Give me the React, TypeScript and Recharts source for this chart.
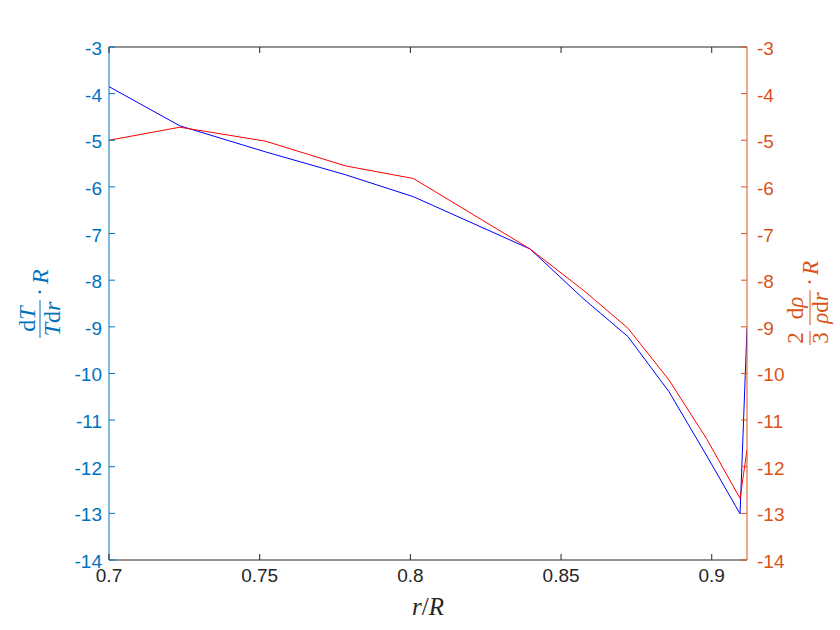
import React from 'react';
import { LineChart, Line, XAxis, YAxis } from 'recharts';

// r/R sample positions
const rValues = [0.7, 0.7235, 0.752, 0.7785, 0.801, 0.8397, 0.8573, 0.8722, 0.8858, 0.8982, 0.9094, 0.9117];
// left axis series: dT/(T dr) * R
const tempGradient = [-3.85, -4.69, -5.25, -5.74, -6.21, -7.33, -8.39, -9.21, -10.39, -11.75, -13.01, -9.03];
// right axis series: (2/3) d rho/(rho dr) * R
const densityGradient = [-5.0, -4.72, -5.02, -5.55, -5.82, -7.33, -8.21, -9.03, -10.14, -11.39, -12.68, -11.64];

const xTicks = [0.7, 0.75, 0.8, 0.85, 0.9];
const yTicks = [-3, -4, -5, -6, -7, -8, -9, -10, -11, -12, -13, -14];
const xDomain = [0.7, 0.9117];
const yDomain = [-14, -3];

const data = rValues.map((r, i) => ({ r, t: tempGradient[i], rho: densityGradient[i] }));

const BLUE_AX = '#0072BD';
const ORANGE_AX = '#D95319';
const DARK = '#262626';
const SANS = '"Liberation Sans", Arial, Helvetica, sans-serif';
const SERIF = '"Liberation Serif", "Times New Roman", serif';
const TICK = 6;
const FS = 19;

const LeftTick = (props: any) => {
  const { x, y, payload } = props;
  return (
    <g>
      <line x1={x} x2={x + TICK} y1={y} y2={y} stroke={BLUE_AX} strokeWidth={1} />
      <text x={x - 7} y={y + 8} textAnchor="end" fill={BLUE_AX} fontSize={FS} fontFamily={SANS}>
        {String(payload.value)}
      </text>
    </g>
  );
};

const RightTick = (props: any) => {
  const { x, y, payload } = props;
  return (
    <g>
      <line x1={x} x2={x - TICK} y1={y} y2={y} stroke={ORANGE_AX} strokeWidth={1} />
      <text x={x + 10} y={y + 8} textAnchor="start" fill={ORANGE_AX} fontSize={FS} fontFamily={SANS}>
        {String(payload.value)}
      </text>
    </g>
  );
};

const BottomTick = (props: any) => {
  const { x, y, payload } = props;
  return (
    <g>
      <line x1={x} x2={x} y1={y} y2={y - TICK} stroke={DARK} strokeWidth={1} />
      <text x={x} y={y + 22} textAnchor="middle" fill={DARK} fontSize={FS} fontFamily={SANS}>
        {String(payload.value)}
      </text>
    </g>
  );
};

const TopTick = (props: any) => {
  const { x, y } = props;
  return <line x1={x} x2={x} y1={y} y2={y + TICK} stroke={DARK} strokeWidth={1} />;
};

const LeftLabel = () => (
  <g transform="translate(40,303) rotate(-90)" fill={BLUE_AX} fontFamily={SERIF} fontSize={24}>
    <text x={-16} y={-5} textAnchor="middle">
      <tspan>d</tspan>
      <tspan fontStyle="italic">T</tspan>
    </text>
    <line x1={-35} x2={3} y1={0} y2={0} stroke={BLUE_AX} strokeWidth={1} />
    <text x={-16} y={20} textAnchor="middle">
      <tspan fontStyle="italic">T</tspan>
      <tspan>d</tspan>
      <tspan fontStyle="italic">r</tspan>
    </text>
    <text x={11} y={7} textAnchor="middle">·</text>
    <text x={19} y={8} fontStyle="italic">R</text>
  </g>
);

const RightLabel = () => (
  <g transform="translate(810,303) rotate(-90)" fill={ORANGE_AX} fontFamily={SERIF} fontSize={23}>
    <text x={-35} y={-7} textAnchor="middle">2</text>
    <line x1={-42} x2={-28} y1={0} y2={0} stroke={ORANGE_AX} strokeWidth={1} />
    <text x={-35} y={18} textAnchor="middle">3</text>
    <text x={-5} y={-7} textAnchor="middle">
      <tspan>d</tspan>
      <tspan fontStyle="italic">ρ</tspan>
    </text>
    <line x1={-22} x2={13} y1={0} y2={0} stroke={ORANGE_AX} strokeWidth={1} />
    <text x={-5} y={18} textAnchor="middle">
      <tspan fontStyle="italic">ρ</tspan>
      <tspan>d</tspan>
      <tspan fontStyle="italic">r</tspan>
    </text>
    <text x={21} y={7} textAnchor="middle">·</text>
    <text x={28} y={8} fontStyle="italic">R</text>
  </g>
);

const XLabel = () => (
  <text x={428} y={615} textAnchor="middle" fill={DARK} fontFamily={SERIF} fontSize={25}>
    <tspan fontStyle="italic">r</tspan>
    <tspan>/</tspan>
    <tspan fontStyle="italic">R</tspan>
  </text>
);

export default function App() {
  return (
    <div style={{ position: 'absolute', left: 0, top: 0, width: 840, height: 630, background: '#fff' }}>
      <LineChart width={840} height={630} data={data} margin={{ top: 46, right: 0, bottom: 0, left: 0 }}>
        <XAxis
          xAxisId="b"
          dataKey="r"
          type="number"
          orientation="bottom"
          domain={xDomain}
          ticks={xTicks}
          allowDataOverflow
          height={70}
          stroke={DARK}
          tickLine={false}
          tickSize={0}
          tickMargin={0}
          tick={<BottomTick />}
          label={<XLabel />}
        />
        <XAxis
          xAxisId="t"
          dataKey="r"
          type="number"
          orientation="top"
          domain={xDomain}
          ticks={xTicks}
          allowDataOverflow
          height={1}
          stroke={DARK}
          tickLine={false}
          tickSize={0}
          tickMargin={0}
          tick={<TopTick />}
        />
        <YAxis
          yAxisId="l"
          orientation="left"
          type="number"
          domain={yDomain}
          ticks={yTicks}
          allowDataOverflow
          width={109}
          stroke={BLUE_AX}
          tickLine={false}
          tickSize={0}
          tickMargin={0}
          tick={<LeftTick />}
          label={<LeftLabel />}
        />
        <YAxis
          yAxisId="r"
          orientation="right"
          type="number"
          domain={yDomain}
          ticks={yTicks}
          allowDataOverflow
          width={93}
          stroke={ORANGE_AX}
          tickLine={false}
          tickSize={0}
          tickMargin={0}
          tick={<RightTick />}
          label={<RightLabel />}
        />
        <Line
          xAxisId="b"
          yAxisId="l"
          type="linear"
          dataKey="t"
          stroke="#0000FF"
          strokeWidth={1}
          dot={false}
          activeDot={false}
          isAnimationActive={false}
        />
        <Line
          xAxisId="b"
          yAxisId="r"
          type="linear"
          dataKey="rho"
          stroke="#FF0000"
          strokeWidth={1}
          dot={false}
          activeDot={false}
          isAnimationActive={false}
        />
      </LineChart>
    </div>
  );
}
